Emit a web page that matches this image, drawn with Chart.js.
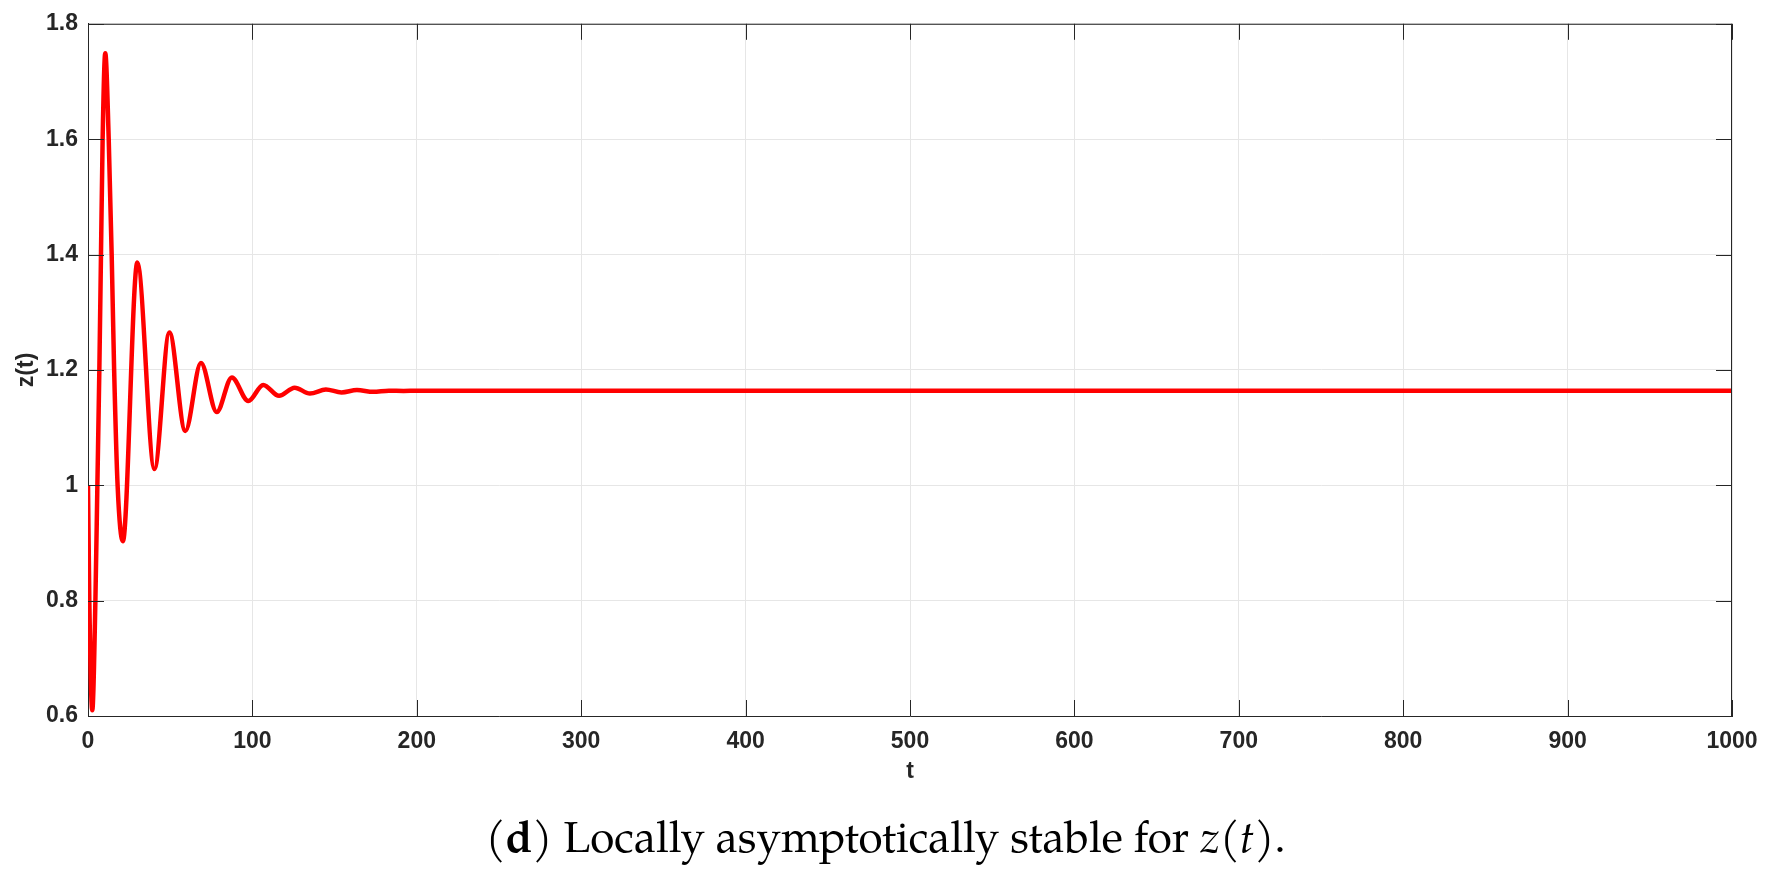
<!DOCTYPE html>
<html>
<head>
<meta charset="utf-8">
<script src="https://cdn.jsdelivr.net/npm/chart.js@4.4.0/dist/chart.umd.min.js"></script>
<style>
  html, body { margin: 0; padding: 0; background: #fff; }
  #wrap { position: relative; width: 1771px; height: 879px; }
  #caption {
    position: absolute; left: 0; top: 820px; width: 1771px;
    text-align: center; font-family: "Palatino Linotype", Palatino, "TeX Gyre Pagella", "Liberation Serif", serif;
    font-size: 44px; line-height: 44px; color: #000;
  }
</style>
</head>
<body>
<div id="wrap">
  <canvas id="diagramm" width="1771" height="879"></canvas>
  <div id="caption">(<b>d</b>) Locally asymptotically stable for <i>z</i>(<i>t</i>).</div>
</div>
<script>
// z(t): extremes of the damped oscillation, then the plateau
const tValues = [0, 0.8, 2.6, 4.5, 5.7, 6.9, 7.9, 8.9, 10.5, 12.6, 14.4, 15.9, 18.0, 21.2,
  30.0, 40.4, 49.5, 59.2, 68.7, 78.3, 87.5, 97.5, 106.6, 116.2, 125.7, 135.0,
  144.7, 154.2, 163.6, 173.5, 183.0, 192.0, 200, 300, 500, 700, 1000];
const zValues = [1.0, 0.8, 0.61, 0.8, 1.0, 1.2, 1.4, 1.6, 1.749, 1.6, 1.4, 1.2, 1.0, 0.903,
  1.386, 1.028, 1.265, 1.094, 1.212, 1.127, 1.187, 1.146, 1.174, 1.155, 1.169, 1.159,
  1.166, 1.161, 1.165, 1.162, 1.164, 1.1635, 1.164, 1.164, 1.164, 1.164, 1.164];

const xTicks = [0, 100, 200, 300, 400, 500, 600, 700, 800, 900, 1000];
const xTickLabels = ["0", "100", "200", "300", "400", "500", "600", "700", "800", "900", "1000"];
const yTicks = [0.6, 0.8, 1.0, 1.2, 1.4, 1.6, 1.8];
const yTickLabels = ["0.6", "0.8", "1", "1.2", "1.4", "1.6", "1.8"];

const axisColor = "#262626";
const tickFont = { family: "'Liberation Sans', Arial, Helvetica, sans-serif", size: 23, weight: "bold" };

// MATLAB style box with inward ticks on all four sides
const boxPlugin = {
  id: "box",
  afterDraw(chart) {
    const { ctx, chartArea: a, scales } = chart;
    const len = 16;
    ctx.save();
    ctx.strokeStyle = axisColor;
    ctx.lineWidth = 1;
    ctx.beginPath();
    ctx.moveTo(a.left, a.top + 0.5);
    ctx.lineTo(a.right, a.top + 0.5);
    ctx.moveTo(a.right - 0.5, a.top);
    ctx.lineTo(a.right - 0.5, a.bottom);
    xTicks.forEach((v) => {
      const x = Math.round(scales.x.getPixelForValue(v)) + 0.5;
      ctx.moveTo(x, a.bottom);
      ctx.lineTo(x, a.bottom - len);
      ctx.moveTo(x, a.top);
      ctx.lineTo(x, a.top + len);
    });
    yTicks.forEach((v) => {
      const y = Math.round(scales.y.getPixelForValue(v)) + 0.5;
      ctx.moveTo(a.left, y);
      ctx.lineTo(a.left + len, y);
      ctx.moveTo(a.right, y);
      ctx.lineTo(a.right - len, y);
    });
    ctx.stroke();
    ctx.restore();
  },
};

const ctx = document.getElementById("diagramm").getContext("2d");
new Chart(ctx, {
  type: "line",
  data: {
    datasets: [
      {
        label: "z(t)",
        data: tValues.map((t, i) => ({ x: t, y: zValues[i] })),
        borderColor: "#ff0000",
        borderWidth: 4.5,
        pointRadius: 0,
        fill: false,
        cubicInterpolationMode: "monotone",
      },
    ],
  },
  options: {
    responsive: false,
    animation: false,
    devicePixelRatio: 1,
    layout: { padding: { left: 0, top: 23, right: 39, bottom: 83 } },
    plugins: { legend: { display: false }, tooltip: { enabled: false } },
    scales: {
      x: {
        type: "linear",
        min: 0,
        max: 1000,
        afterBuildTicks: (scale) => { scale.ticks = xTicks.map((v) => ({ value: v })); },
        afterFit: (scale) => { scale.height = 80; },
        ticks: {
          font: tickFont,
          color: axisColor,
          padding: 12,
          maxRotation: 0,
          callback: (v, i) => xTickLabels[i],
        },
        grid: { color: "#e6e6e6", drawTicks: false },
        border: { color: axisColor, width: 1 },
        title: { display: true, text: "t", font: tickFont, color: axisColor, padding: { top: 0, bottom: 11 } },
      },
      y: {
        min: 0.6,
        max: 1.8,
        afterBuildTicks: (scale) => { scale.ticks = yTicks.map((v) => ({ value: v })); },
        afterFit: (scale) => { scale.width = 88; },
        ticks: {
          font: tickFont,
          color: axisColor,
          padding: 10,
          callback: (v, i) => yTickLabels[i],
        },
        grid: { color: "#e6e6e6", drawTicks: false },
        border: { color: axisColor, width: 1 },
        title: { display: true, text: "z(t)", font: tickFont, color: axisColor, padding: { top: 13, bottom: 0 } },
      },
    },
  },
  plugins: [boxPlugin],
});
</script>
</body>
</html>
